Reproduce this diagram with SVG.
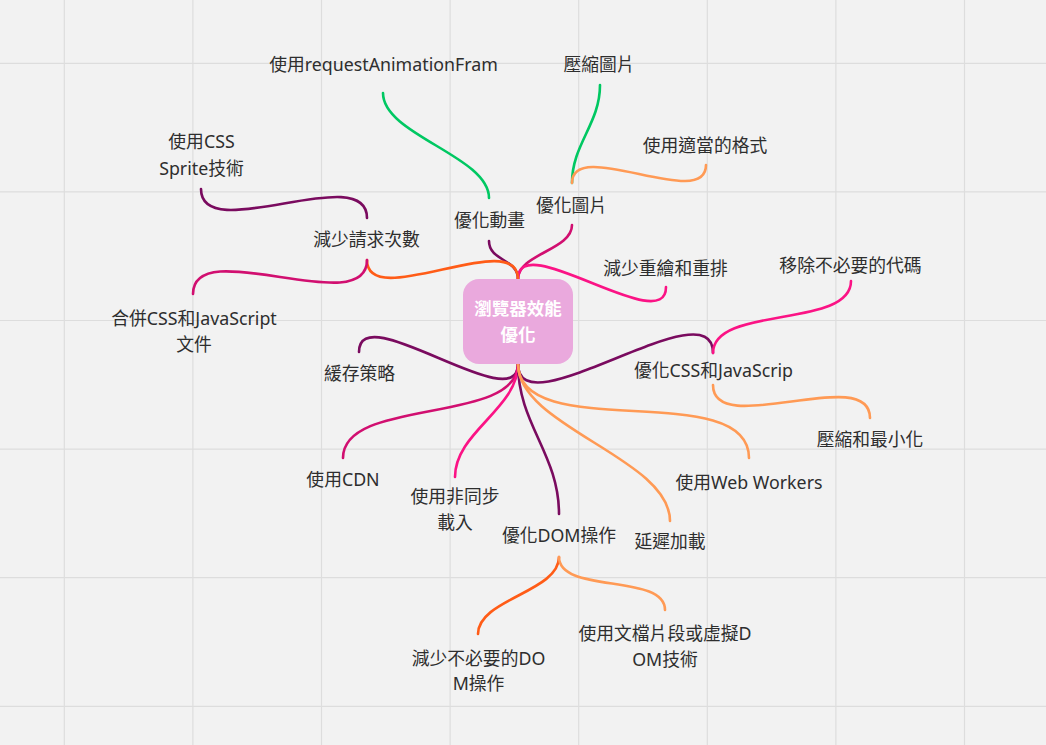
<svg xmlns="http://www.w3.org/2000/svg" width="1046" height="745" viewBox="0 0 1046 745">
<style>
.grid{stroke:#dddddd;stroke-width:1.2}
.c{fill:none;stroke-width:2.6;stroke-linecap:round}
.pu{stroke:#7a0b5f}
.mg{stroke:#d10f70}
.pk{stroke:#fb1385}
.or{stroke:#ff5c17}
.lo{stroke:#ff9a55}
.gr{stroke:#00c862}
.t{font-family:"Noto Sans","Noto Sans CJK TC",sans-serif;font-size:17.8px;fill:#2e2e2e;text-anchor:middle}
.ct{font-family:"Noto Sans","Noto Sans CJK TC",sans-serif;font-size:17.5px;font-weight:bold;fill:#ffffff;text-anchor:middle}
</style>
<rect x="0" y="0" width="1046" height="745" fill="#f2f2f2"/>
<g id="grid">
<line class="grid" x1="64.3" y1="0" x2="64.3" y2="745"/>
<line class="grid" x1="192.9" y1="0" x2="192.9" y2="745"/>
<line class="grid" x1="321.5" y1="0" x2="321.5" y2="745"/>
<line class="grid" x1="450.1" y1="0" x2="450.1" y2="745"/>
<line class="grid" x1="578.7" y1="0" x2="578.7" y2="745"/>
<line class="grid" x1="707.3" y1="0" x2="707.3" y2="745"/>
<line class="grid" x1="835.9" y1="0" x2="835.9" y2="745"/>
<line class="grid" x1="964.5" y1="0" x2="964.5" y2="745"/>
<line class="grid" x1="0" y1="63.3" x2="1046" y2="63.3"/>
<line class="grid" x1="0" y1="191.9" x2="1046" y2="191.9"/>
<line class="grid" x1="0" y1="320.5" x2="1046" y2="320.5"/>
<line class="grid" x1="0" y1="449.1" x2="1046" y2="449.1"/>
<line class="grid" x1="0" y1="577.7" x2="1046" y2="577.7"/>
<line class="grid" x1="0" y1="706.3" x2="1046" y2="706.3"/>
</g>
<g id="connectors">
<path class="c pu" d="M518,279 C518,259 489,261 489,241"/>
<path class="c mg" d="M518,279 C518,254 572,250 572,225"/>
<path class="c pk" d="M518,279 C518,227 666,339 666,287"/>
<path class="c or" d="M518,279 C518,226 367,313 367,260"/>
<path class="c pu" d="M518,364 C518,420 359,296 359,352"/>
<path class="c pu" d="M518,364 C518,432 713,285 713,353"/>
<path class="c mg" d="M518,364 C518,425 343,397 343,458"/>
<path class="c pk" d="M518,364 C518,409 455,432 455,477"/>
<path class="c pu" d="M518,364 C518,424 559,454 559,514"/>
<path class="c lo" d="M518,364 C518,427 670,458 670,521"/>
<path class="c lo" d="M518,364 C518,445 749,377 749,458"/>
<path class="c gr" d="M489,198 C489,156 383,135 383,93"/>
<path class="c gr" d="M572,183 C572,144 600,124 600,85"/>
<path class="c lo" d="M572,183 C572,136 706,212 706,165"/>
<path class="c pu" d="M367,218 C367,160 201,247 201,189"/>
<path class="c mg" d="M367,260 C367,321 193,233 193,294"/>
<path class="c pk" d="M713,353 C713,305 851,329 851,281"/>
<path class="c lo" d="M713,385 C713,440 870,363 870,418"/>
<path class="c or" d="M559,557 C559,592 478,599 478,634"/>
<path class="c lo" d="M559,557 C559,594 665,573 665,610"/>
</g>
<g id="root">
<rect x="463" y="279" width="110" height="85" rx="16" fill="#eaa9dd"/>
<text class="ct" x="518" y="314.5">瀏覽器效能</text>
<text class="ct" x="518" y="340.5">優化</text>
</g>
<g id="n-anim"><text class="t" x="489.5" y="226.5">優化動畫</text></g>
<g id="n-img"><text class="t" x="571.5" y="211.5">優化圖片</text></g>
<g id="n-raf"><text class="t" x="383.5" y="70.5">使用requestAnimationFram</text></g>
<g id="n-compimg"><text class="t" x="599" y="70.5">壓縮圖片</text></g>
<g id="n-format"><text class="t" x="705" y="152">使用適當的格式</text></g>
<g id="n-reflow"><text class="t" x="665.5" y="274.5">減少重繪和重排</text></g>
<g id="n-remove"><text class="t" x="850.5" y="272">移除不必要的代碼</text></g>
<g id="n-cssjs"><text class="t" x="713.5" y="376.5">優化CSS和JavaScrip</text></g>
<g id="n-minify"><text class="t" x="870" y="445.5">壓縮和最小化</text></g>
<g id="n-requests"><text class="t" x="366.5" y="245.5">減少請求次數</text></g>
<g id="n-sprite"><text class="t" x="201.5" y="148">使用CSS</text><text class="t" x="201.5" y="174.5">Sprite技術</text></g>
<g id="n-merge"><text class="t" x="194" y="324.5">合併CSS和JavaScript</text><text class="t" x="194" y="350.5">文件</text></g>
<g id="n-cache"><text class="t" x="359.5" y="379.5">緩存策略</text></g>
<g id="n-cdn"><text class="t" x="343" y="485.5">使用CDN</text></g>
<g id="n-async"><text class="t" x="455" y="502.5">使用非同步</text><text class="t" x="455" y="528.5">載入</text></g>
<g id="n-dom"><text class="t" x="559" y="541.5">優化DOM操作</text></g>
<g id="n-lazy"><text class="t" x="670" y="548">延遲加載</text></g>
<g id="n-worker"><text class="t" x="749" y="489">使用Web Workers</text></g>
<g id="n-reducedom"><text class="t" x="478.5" y="664.5">減少不必要的DO</text><text class="t" x="478.5" y="690">M操作</text></g>
<g id="n-fragment"><text class="t" x="665" y="639.5">使用文檔片段或虛擬D</text><text class="t" x="665" y="665.5">OM技術</text></g>
</svg>
